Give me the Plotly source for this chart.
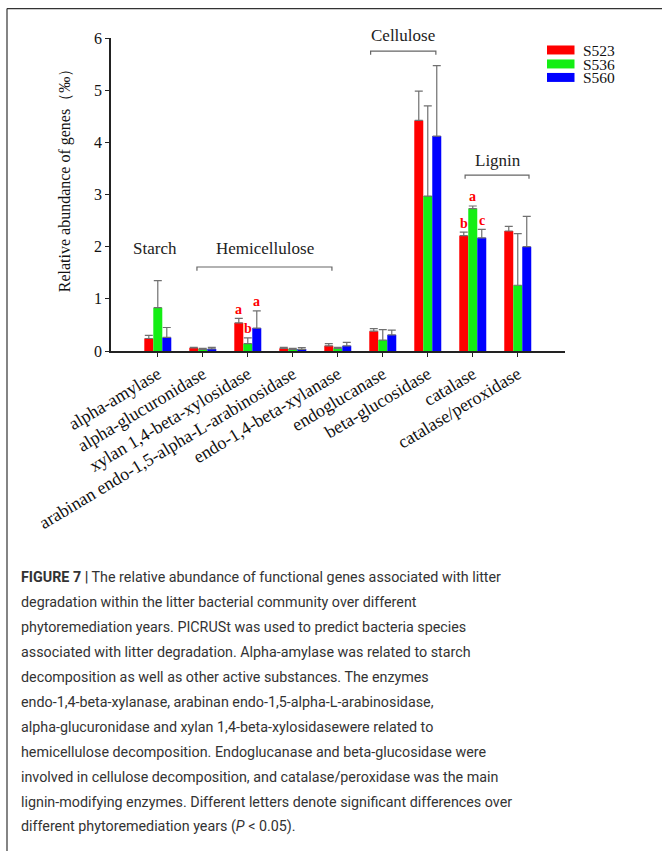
import plotly.graph_objects as go

categories = ["alpha-amylase", "alpha-glucuronidase", "xylan 1,4-beta-xylosidase",
              "arabinan endo-1,5-alpha-L-arabinosidase", "endo-1,4-beta-xylanase",
              "endoglucanase", "beta-glucosidase", "catalase", "catalase/peroxidase"]
series_names = ["S523", "S536", "S560"]
s523 = [0.24, 0.06, 0.54, 0.05, 0.10, 0.38, 4.42, 2.21, 2.30]
s536 = [0.83, 0.03, 0.14, 0.03, 0.05, 0.21, 2.97, 2.73, 1.26]
s560 = [0.26, 0.04, 0.44, 0.03, 0.10, 0.31, 4.12, 2.17, 2.00]
s523_err = [0.06, 0.01, 0.085, 0.02, 0.04, 0.05, 0.56, 0.07, 0.09]
s536_err = [0.52, 0.02, 0.11, 0.02, 0.02, 0.20, 1.73, 0.05, 0.99]
s560_err = [0.19, 0.03, 0.33, 0.035, 0.065, 0.09, 1.35, 0.16, 0.58]
colors = ["#ff0000", "#14ee14", "#0000ff"]
yticks = [0, 1, 2, 3, 4, 5, 6]

# significance letters: (category index, series index, letter)
letters = [(2, 0, "a"), (2, 1, "b"), (2, 2, "a"), (7, 0, "b"), (7, 1, "a"), (7, 2, "c")]
# group labels: (text, label x, label y, bracket x0, bracket x1, bracket y)
groups = [("Starch", -0.06, 1.97, None, None, None),
          ("Hemicellulose", 2.38, 1.97, 0.87, 3.87, 1.61),
          ("Cellulose", 5.45, 6.05, 4.73, 6.18, 5.75),
          ("Lignin", 7.56, 3.66, 6.83, 8.25, 3.37)]

caption_lines = [
    "<b>FIGURE 7 |</b> The relative abundance of functional genes associated with litter",
    "degradation within the litter bacterial community over different",
    "phytoremediation years. PICRUSt was used to predict bacteria species",
    "associated with litter degradation. Alpha-amylase was related to starch",
    "decomposition as well as other active substances. The enzymes",
    "endo-1,4-beta-xylanase, arabinan endo-1,5-alpha-L-arabinosidase,",
    "alpha-glucuronidase and xylan 1,4-beta-xylosidasewere related to",
    "hemicellulose decomposition. Endoglucanase and beta-glucosidase were",
    "involved in cellulose decomposition, and catalase/peroxidase was the main",
    "lignin-modifying enzymes. Different letters denote significant differences over",
    "different phytoremediation years (<i>P</i> &lt; 0.05).",
]

W, H = 662, 851
L, R, T, B = 111, 565, 37.5, 351


def px2x(px):
    return (px - L) / (R - L)


def px2y(py):
    return (B - py) / (B - T)


def y2py(v):
    return B - v * (B - T) / 6.0


SERIF = "Liberation Serif, Times New Roman, serif"
fig = go.Figure()
vals = [s523, s536, s560]
errs = [s523_err, s536_err, s560_err]
for name, v, e, c in zip(series_names, vals, errs, colors):
    fig.add_trace(go.Bar(
        x=categories, y=v, name=name, marker=dict(color=c, line=dict(width=0)),
        error_y=dict(type="data", array=e, arrayminus=[0] * len(e), symmetric=False,
                     color="#707070", thickness=1.2, width=4),
        showlegend=False,
    ))

annotations = []
shapes = []
# letters
for ci, si, txt in letters:
    xoff = (si - 1) * 0.2
    annotations.append(dict(x=ci + xoff, y=vals[si][ci] + errs[si][ci], xref="x", yref="y",
                            text="<b>%s</b>" % txt, showarrow=False, xanchor="center", yanchor="middle",
                            yshift=9, font=dict(family=SERIF, size=14, color="#ff0000")))
# groups (labels placed in paper coords so they are not hidden outside the axis range)
for txt, lx, ly, bx0, bx1, by in groups:
    annotations.append(dict(x=lx, y=px2y(y2py(ly)), xref="x", yref="paper", text=txt, showarrow=False,
                            xanchor="center", yanchor="middle",
                            font=dict(family=SERIF, size=17, color="#222")))
    if bx0 is not None:
        shapes.append(dict(type="path", xref="x", yref="y",
                           path="M %f %f L %f %f L %f %f L %f %f" % (bx0, by - 0.07, bx0, by, bx1, by, bx1, by - 0.07),
                           line=dict(color="#666", width=1.2)))
# y title
annotations.append(dict(x=px2x(65), y=px2y(177), xref="paper", yref="paper",
                        text="Relative abundance of genes（‰）", textangle=-90, showarrow=False,
                        xanchor="center", yanchor="middle",
                        font=dict(family=SERIF, size=16, color="#111")))
# custom legend
leg_y = [49.5, 63.5, 77]
for name, c, yy in zip(series_names, colors, leg_y):
    shapes.append(dict(type="rect", xref="paper", yref="paper", x0=px2x(547), x1=px2x(574.5),
                       y0=px2y(yy + 4.5), y1=px2y(yy - 4.5), fillcolor=c, line=dict(width=0)))
    annotations.append(dict(x=px2x(581), y=px2y(yy + 0.5), xref="paper", yref="paper", text=name,
                            showarrow=False, xanchor="left", yanchor="middle",
                            font=dict(family=SERIF, size=15.5, color="#111")))
# caption
for i, line in enumerate(caption_lines):
    center = 577.5 + 25 * i
    annotations.append(dict(x=px2x(19), y=px2y(center), xref="paper", yref="paper", text=line,
                            showarrow=False, xanchor="left", yanchor="middle",
                            font=dict(family="Roboto, Arial, sans-serif", size=14.3, color="#333")))
# frame
shapes.append(dict(type="line", xref="paper", yref="paper", x0=px2x(7), x1=px2x(700),
                   y0=px2y(8), y1=px2y(8), line=dict(color="#333", width=1.2)))
shapes.append(dict(type="line", xref="paper", yref="paper", x0=px2x(7), x1=px2x(7),
                   y0=px2y(8), y1=px2y(860), line=dict(color="#333", width=1.2)))

fig.update_layout(
    width=W, height=H,
    margin=dict(l=L, r=W - R, t=T, b=H - B, pad=0),
    plot_bgcolor="white", paper_bgcolor="white",
    barmode="group", bargap=0.4, bargroupgap=0,
    font=dict(family=SERIF, size=16, color="#111"),
    xaxis=dict(type="category", range=[-1.04, 9.05], showline=True, linecolor="#222", linewidth=1.5,
               ticks="outside", ticklen=4, tickcolor="#222", tickangle=-31, showgrid=False,
               tickfont=dict(family=SERIF, size=18, color="#111"), automargin=False),
    yaxis=dict(range=[0, 6], tickvals=yticks, showline=True, linecolor="#222", linewidth=1.5,
               ticks="outside", ticklen=4, tickcolor="#222", showgrid=False, zeroline=False,
               tickfont=dict(family=SERIF, size=16, color="#111"), automargin=False),
    annotations=annotations, shapes=shapes,
)
fig.write_html("out.html", config={"displayModeBar": False},
               post_script="document.body.style.margin='0px';")
